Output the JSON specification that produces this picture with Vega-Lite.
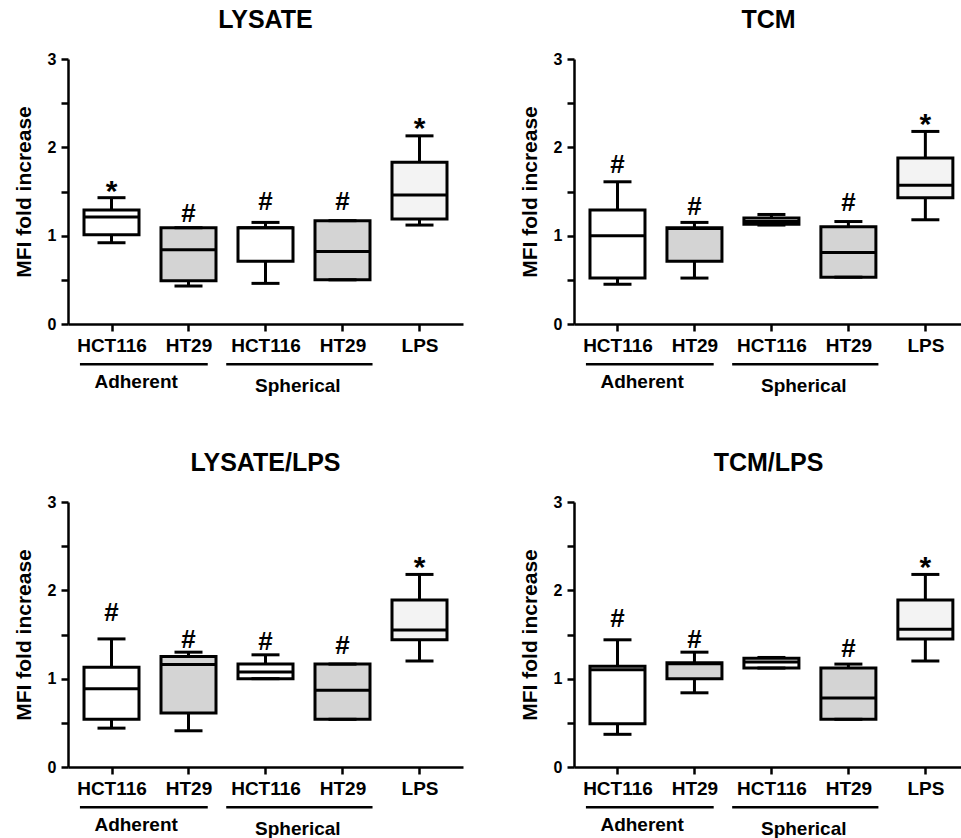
{
  "$schema": "https://vega.github.io/schema/vega-lite/v6.json",
  "padding": {"left": 13, "top": 8, "right": 0, "bottom": 0},
  "autosize": {"type": "pad"},
  "bounds": "flush",
  "columns": 2,
  "spacing": {"row": 178, "column": 111},
  "datasets": {
    "boxes": [
      {"panel": "LYSATE", "pos": 1, "kind": "white", "lo": 0.92, "q1": 1.01, "med": 1.21, "q3": 1.29, "hi": 1.43, "annot": "*", "ay": 1.56},
      {"panel": "LYSATE", "pos": 2, "kind": "gray", "lo": 0.43, "q1": 0.49, "med": 0.84, "q3": 1.09, "hi": 1.09, "annot": "#", "ay": 1.26},
      {"panel": "LYSATE", "pos": 3, "kind": "white", "lo": 0.46, "q1": 0.71, "med": 1.09, "q3": 1.09, "hi": 1.15, "annot": "#", "ay": 1.39},
      {"panel": "LYSATE", "pos": 4, "kind": "gray", "lo": 0.5, "q1": 0.5, "med": 0.82, "q3": 1.17, "hi": 1.17, "annot": "#", "ay": 1.39},
      {"panel": "LYSATE", "pos": 5, "kind": "dotted", "lo": 1.12, "q1": 1.19, "med": 1.46, "q3": 1.83, "hi": 2.13, "annot": "*", "ay": 2.28},
      {"panel": "TCM", "pos": 1, "kind": "white", "lo": 0.45, "q1": 0.52, "med": 1.0, "q3": 1.29, "hi": 1.61, "annot": "#", "ay": 1.81},
      {"panel": "TCM", "pos": 2, "kind": "gray", "lo": 0.52, "q1": 0.71, "med": 1.08, "q3": 1.09, "hi": 1.15, "annot": "#", "ay": 1.34},
      {"panel": "TCM", "pos": 3, "kind": "white", "lo": 1.12, "q1": 1.13, "med": 1.16, "q3": 1.2, "hi": 1.24, "annot": "", "ay": null},
      {"panel": "TCM", "pos": 4, "kind": "gray", "lo": 0.53, "q1": 0.53, "med": 0.81, "q3": 1.1, "hi": 1.16, "annot": "#", "ay": 1.38},
      {"panel": "TCM", "pos": 5, "kind": "dotted", "lo": 1.18, "q1": 1.43, "med": 1.57, "q3": 1.88, "hi": 2.18, "annot": "*", "ay": 2.32},
      {"panel": "LYSATE/LPS", "pos": 1, "kind": "white", "lo": 0.44, "q1": 0.54, "med": 0.885, "q3": 1.13, "hi": 1.45, "annot": "#", "ay": 1.75},
      {"panel": "LYSATE/LPS", "pos": 2, "kind": "gray", "lo": 0.41, "q1": 0.61, "med": 1.16, "q3": 1.25, "hi": 1.3, "annot": "#", "ay": 1.45},
      {"panel": "LYSATE/LPS", "pos": 3, "kind": "white", "lo": 1.0, "q1": 1.0, "med": 1.075, "q3": 1.165, "hi": 1.27, "annot": "#", "ay": 1.43},
      {"panel": "LYSATE/LPS", "pos": 4, "kind": "gray", "lo": 0.54, "q1": 0.54, "med": 0.87, "q3": 1.165, "hi": 1.165, "annot": "#", "ay": 1.38},
      {"panel": "LYSATE/LPS", "pos": 5, "kind": "dotted", "lo": 1.2, "q1": 1.44, "med": 1.55, "q3": 1.89, "hi": 2.18, "annot": "*", "ay": 2.32},
      {"panel": "TCM/LPS", "pos": 1, "kind": "white", "lo": 0.37, "q1": 0.49, "med": 1.1, "q3": 1.14, "hi": 1.44, "annot": "#", "ay": 1.69},
      {"panel": "TCM/LPS", "pos": 2, "kind": "gray", "lo": 0.84, "q1": 1.0, "med": 1.17, "q3": 1.18, "hi": 1.3, "annot": "#", "ay": 1.45},
      {"panel": "TCM/LPS", "pos": 3, "kind": "white", "lo": 1.12, "q1": 1.12, "med": 1.19, "q3": 1.23, "hi": 1.24, "annot": "", "ay": null},
      {"panel": "TCM/LPS", "pos": 4, "kind": "gray", "lo": 0.54, "q1": 0.54, "med": 0.78, "q3": 1.12, "hi": 1.165, "annot": "#", "ay": 1.35},
      {"panel": "TCM/LPS", "pos": 5, "kind": "dotted", "lo": 1.2, "q1": 1.45, "med": 1.56, "q3": 1.89, "hi": 2.18, "annot": "*", "ay": 2.32}
    ],
    "groups": [
      {"group": "Adherent", "start": 0.59, "end": 2.25, "mid": 1.32},
      {"group": "Spherical", "start": 2.49, "end": 4.39, "mid": 3.42}
    ]
  },
  "concat": [
    {
      "width": 395, "height": 265,
      "title": "LYSATE",
      "data": {"name": "boxes"},
      "transform": [{"filter": "datum.panel === 'LYSATE'"}],
      "layer": [
        {"mark": {"type": "rule", "color": "black", "strokeWidth": 3},
         "encoding": {
           "x": {"field": "pos", "type": "quantitative", "scale": {"domain": [0.5, 5.5], "nice": false, "zero": false},
                 "axis": {"values": [1, 2, 3, 4, 5], "labelExpr": "['','HCT116','HT29','HCT116','HT29','LPS'][datum.value]", "title": null}},
           "y": {"field": "lo", "type": "quantitative", "scale": {"domain": [0, 3], "nice": false},
                 "axis": {"values": [0, 0.5, 1, 1.5, 2, 2.5, 3], "labelExpr": "datum.value % 1 === 0 ? format(datum.value, 'd') : ''", "title": "MFI fold increase"}},
           "y2": {"field": "hi"}}},
        {"mark": {"type": "bar", "size": 55, "stroke": "black", "strokeWidth": 3},
         "encoding": {"x": {"field": "pos", "type": "quantitative"}, "y": {"field": "q1", "type": "quantitative"}, "y2": {"field": "q3"},
           "fill": {"field": "kind", "type": "nominal", "scale": {"domain": ["white", "gray", "dotted"], "range": ["#ffffff", "#d4d4d4", "#f3f3f3"]}, "legend": null}}},
        {"mark": {"type": "tick", "orient": "horizontal", "size": 55, "thickness": 3, "color": "black", "opacity": 1},
         "encoding": {"x": {"field": "pos", "type": "quantitative"}, "y": {"field": "med", "type": "quantitative"}}},
        {"mark": {"type": "tick", "orient": "horizontal", "size": 28, "thickness": 3, "color": "black", "opacity": 1},
         "encoding": {"x": {"field": "pos", "type": "quantitative"}, "y": {"field": "lo", "type": "quantitative"}}},
        {"mark": {"type": "tick", "orient": "horizontal", "size": 28, "thickness": 3, "color": "black", "opacity": 1},
         "encoding": {"x": {"field": "pos", "type": "quantitative"}, "y": {"field": "hi", "type": "quantitative"}}},
        {"transform": [{"filter": "datum.annot === '#'"}],
         "mark": {"type": "text", "fontSize": 26, "fontWeight": "bold", "baseline": "alphabetic", "dy": 9, "color": "black"},
         "encoding": {"x": {"field": "pos", "type": "quantitative"}, "y": {"field": "ay", "type": "quantitative"}, "text": {"field": "annot"}}},
        {"transform": [{"filter": "datum.annot === '*'"}],
         "mark": {"type": "text", "fontSize": 30, "fontWeight": "bold", "baseline": "alphabetic", "dy": 15, "color": "black"},
         "encoding": {"x": {"field": "pos", "type": "quantitative"}, "y": {"field": "ay", "type": "quantitative"}, "text": {"field": "annot"}}},
        {"data": {"name": "groups"},
         "mark": {"type": "rule", "color": "black", "strokeWidth": 2.5},
         "encoding": {"x": {"field": "start", "type": "quantitative"}, "x2": {"field": "end"}, "y": {"datum": -0.455}}},
        {"data": {"name": "groups"}, "transform": [{"filter": "datum.group === 'Adherent'"}],
         "mark": {"type": "text", "fontSize": 19, "fontWeight": "bold", "baseline": "middle", "dy": 58, "color": "black"},
         "encoding": {"x": {"field": "mid", "type": "quantitative"}, "y": {"datum": 0}, "text": {"field": "group"}}},
        {"data": {"name": "groups"}, "transform": [{"filter": "datum.group === 'Spherical'"}],
         "mark": {"type": "text", "fontSize": 19, "fontWeight": "bold", "baseline": "middle", "dy": 62, "color": "black"},
         "encoding": {"x": {"field": "mid", "type": "quantitative"}, "y": {"datum": 0}, "text": {"field": "group"}}}
      ]
    },
    {
      "width": 389, "height": 265,
      "title": "TCM",
      "data": {"name": "boxes"},
      "transform": [{"filter": "datum.panel === 'TCM'"}],
      "layer": [
        {"mark": {"type": "rule", "color": "black", "strokeWidth": 3},
         "encoding": {
           "x": {"field": "pos", "type": "quantitative", "scale": {"domain": [0.5, 5.424], "nice": false, "zero": false},
                 "axis": {"values": [1, 2, 3, 4, 5], "labelExpr": "['','HCT116','HT29','HCT116','HT29','LPS'][datum.value]", "title": null}},
           "y": {"field": "lo", "type": "quantitative", "scale": {"domain": [0, 3], "nice": false},
                 "axis": {"values": [0, 0.5, 1, 1.5, 2, 2.5, 3], "labelExpr": "datum.value % 1 === 0 ? format(datum.value, 'd') : ''", "title": "MFI fold increase"}},
           "y2": {"field": "hi"}}},
        {"mark": {"type": "bar", "size": 55, "stroke": "black", "strokeWidth": 3},
         "encoding": {"x": {"field": "pos", "type": "quantitative"}, "y": {"field": "q1", "type": "quantitative"}, "y2": {"field": "q3"},
           "fill": {"field": "kind", "type": "nominal", "scale": {"domain": ["white", "gray", "dotted"], "range": ["#ffffff", "#d4d4d4", "#f3f3f3"]}, "legend": null}}},
        {"mark": {"type": "tick", "orient": "horizontal", "size": 55, "thickness": 3, "color": "black", "opacity": 1},
         "encoding": {"x": {"field": "pos", "type": "quantitative"}, "y": {"field": "med", "type": "quantitative"}}},
        {"mark": {"type": "tick", "orient": "horizontal", "size": 28, "thickness": 3, "color": "black", "opacity": 1},
         "encoding": {"x": {"field": "pos", "type": "quantitative"}, "y": {"field": "lo", "type": "quantitative"}}},
        {"mark": {"type": "tick", "orient": "horizontal", "size": 28, "thickness": 3, "color": "black", "opacity": 1},
         "encoding": {"x": {"field": "pos", "type": "quantitative"}, "y": {"field": "hi", "type": "quantitative"}}},
        {"transform": [{"filter": "datum.annot === '#'"}],
         "mark": {"type": "text", "fontSize": 26, "fontWeight": "bold", "baseline": "alphabetic", "dy": 9, "color": "black"},
         "encoding": {"x": {"field": "pos", "type": "quantitative"}, "y": {"field": "ay", "type": "quantitative"}, "text": {"field": "annot"}}},
        {"transform": [{"filter": "datum.annot === '*'"}],
         "mark": {"type": "text", "fontSize": 30, "fontWeight": "bold", "baseline": "alphabetic", "dy": 15, "color": "black"},
         "encoding": {"x": {"field": "pos", "type": "quantitative"}, "y": {"field": "ay", "type": "quantitative"}, "text": {"field": "annot"}}},
        {"data": {"name": "groups"},
         "mark": {"type": "rule", "color": "black", "strokeWidth": 2.5},
         "encoding": {"x": {"field": "start", "type": "quantitative"}, "x2": {"field": "end"}, "y": {"datum": -0.455}}},
        {"data": {"name": "groups"}, "transform": [{"filter": "datum.group === 'Adherent'"}],
         "mark": {"type": "text", "fontSize": 19, "fontWeight": "bold", "baseline": "middle", "dy": 58, "color": "black"},
         "encoding": {"x": {"field": "mid", "type": "quantitative"}, "y": {"datum": 0}, "text": {"field": "group"}}},
        {"data": {"name": "groups"}, "transform": [{"filter": "datum.group === 'Spherical'"}],
         "mark": {"type": "text", "fontSize": 19, "fontWeight": "bold", "baseline": "middle", "dy": 62, "color": "black"},
         "encoding": {"x": {"field": "mid", "type": "quantitative"}, "y": {"datum": 0}, "text": {"field": "group"}}}
      ]
    },
    {
      "width": 395, "height": 265,
      "title": "LYSATE/LPS",
      "data": {"name": "boxes"},
      "transform": [{"filter": "datum.panel === 'LYSATE/LPS'"}],
      "layer": [
        {"mark": {"type": "rule", "color": "black", "strokeWidth": 3},
         "encoding": {
           "x": {"field": "pos", "type": "quantitative", "scale": {"domain": [0.5, 5.5], "nice": false, "zero": false},
                 "axis": {"values": [1, 2, 3, 4, 5], "labelExpr": "['','HCT116','HT29','HCT116','HT29','LPS'][datum.value]", "title": null}},
           "y": {"field": "lo", "type": "quantitative", "scale": {"domain": [0, 3], "nice": false},
                 "axis": {"values": [0, 0.5, 1, 1.5, 2, 2.5, 3], "labelExpr": "datum.value % 1 === 0 ? format(datum.value, 'd') : ''", "title": "MFI fold increase"}},
           "y2": {"field": "hi"}}},
        {"mark": {"type": "bar", "size": 55, "stroke": "black", "strokeWidth": 3},
         "encoding": {"x": {"field": "pos", "type": "quantitative"}, "y": {"field": "q1", "type": "quantitative"}, "y2": {"field": "q3"},
           "fill": {"field": "kind", "type": "nominal", "scale": {"domain": ["white", "gray", "dotted"], "range": ["#ffffff", "#d4d4d4", "#f3f3f3"]}, "legend": null}}},
        {"mark": {"type": "tick", "orient": "horizontal", "size": 55, "thickness": 3, "color": "black", "opacity": 1},
         "encoding": {"x": {"field": "pos", "type": "quantitative"}, "y": {"field": "med", "type": "quantitative"}}},
        {"mark": {"type": "tick", "orient": "horizontal", "size": 28, "thickness": 3, "color": "black", "opacity": 1},
         "encoding": {"x": {"field": "pos", "type": "quantitative"}, "y": {"field": "lo", "type": "quantitative"}}},
        {"mark": {"type": "tick", "orient": "horizontal", "size": 28, "thickness": 3, "color": "black", "opacity": 1},
         "encoding": {"x": {"field": "pos", "type": "quantitative"}, "y": {"field": "hi", "type": "quantitative"}}},
        {"transform": [{"filter": "datum.annot === '#'"}],
         "mark": {"type": "text", "fontSize": 26, "fontWeight": "bold", "baseline": "alphabetic", "dy": 9, "color": "black"},
         "encoding": {"x": {"field": "pos", "type": "quantitative"}, "y": {"field": "ay", "type": "quantitative"}, "text": {"field": "annot"}}},
        {"transform": [{"filter": "datum.annot === '*'"}],
         "mark": {"type": "text", "fontSize": 30, "fontWeight": "bold", "baseline": "alphabetic", "dy": 15, "color": "black"},
         "encoding": {"x": {"field": "pos", "type": "quantitative"}, "y": {"field": "ay", "type": "quantitative"}, "text": {"field": "annot"}}},
        {"data": {"name": "groups"},
         "mark": {"type": "rule", "color": "black", "strokeWidth": 2.5},
         "encoding": {"x": {"field": "start", "type": "quantitative"}, "x2": {"field": "end"}, "y": {"datum": -0.455}}},
        {"data": {"name": "groups"}, "transform": [{"filter": "datum.group === 'Adherent'"}],
         "mark": {"type": "text", "fontSize": 19, "fontWeight": "bold", "baseline": "middle", "dy": 58, "color": "black"},
         "encoding": {"x": {"field": "mid", "type": "quantitative"}, "y": {"datum": 0}, "text": {"field": "group"}}},
        {"data": {"name": "groups"}, "transform": [{"filter": "datum.group === 'Spherical'"}],
         "mark": {"type": "text", "fontSize": 19, "fontWeight": "bold", "baseline": "middle", "dy": 62, "color": "black"},
         "encoding": {"x": {"field": "mid", "type": "quantitative"}, "y": {"datum": 0}, "text": {"field": "group"}}}
      ]
    },
    {
      "width": 389, "height": 265,
      "title": "TCM/LPS",
      "data": {"name": "boxes"},
      "transform": [{"filter": "datum.panel === 'TCM/LPS'"}],
      "layer": [
        {"mark": {"type": "rule", "color": "black", "strokeWidth": 3},
         "encoding": {
           "x": {"field": "pos", "type": "quantitative", "scale": {"domain": [0.5, 5.424], "nice": false, "zero": false},
                 "axis": {"values": [1, 2, 3, 4, 5], "labelExpr": "['','HCT116','HT29','HCT116','HT29','LPS'][datum.value]", "title": null}},
           "y": {"field": "lo", "type": "quantitative", "scale": {"domain": [0, 3], "nice": false},
                 "axis": {"values": [0, 0.5, 1, 1.5, 2, 2.5, 3], "labelExpr": "datum.value % 1 === 0 ? format(datum.value, 'd') : ''", "title": "MFI fold increase"}},
           "y2": {"field": "hi"}}},
        {"mark": {"type": "bar", "size": 55, "stroke": "black", "strokeWidth": 3},
         "encoding": {"x": {"field": "pos", "type": "quantitative"}, "y": {"field": "q1", "type": "quantitative"}, "y2": {"field": "q3"},
           "fill": {"field": "kind", "type": "nominal", "scale": {"domain": ["white", "gray", "dotted"], "range": ["#ffffff", "#d4d4d4", "#f3f3f3"]}, "legend": null}}},
        {"mark": {"type": "tick", "orient": "horizontal", "size": 55, "thickness": 3, "color": "black", "opacity": 1},
         "encoding": {"x": {"field": "pos", "type": "quantitative"}, "y": {"field": "med", "type": "quantitative"}}},
        {"mark": {"type": "tick", "orient": "horizontal", "size": 28, "thickness": 3, "color": "black", "opacity": 1},
         "encoding": {"x": {"field": "pos", "type": "quantitative"}, "y": {"field": "lo", "type": "quantitative"}}},
        {"mark": {"type": "tick", "orient": "horizontal", "size": 28, "thickness": 3, "color": "black", "opacity": 1},
         "encoding": {"x": {"field": "pos", "type": "quantitative"}, "y": {"field": "hi", "type": "quantitative"}}},
        {"transform": [{"filter": "datum.annot === '#'"}],
         "mark": {"type": "text", "fontSize": 26, "fontWeight": "bold", "baseline": "alphabetic", "dy": 9, "color": "black"},
         "encoding": {"x": {"field": "pos", "type": "quantitative"}, "y": {"field": "ay", "type": "quantitative"}, "text": {"field": "annot"}}},
        {"transform": [{"filter": "datum.annot === '*'"}],
         "mark": {"type": "text", "fontSize": 30, "fontWeight": "bold", "baseline": "alphabetic", "dy": 15, "color": "black"},
         "encoding": {"x": {"field": "pos", "type": "quantitative"}, "y": {"field": "ay", "type": "quantitative"}, "text": {"field": "annot"}}},
        {"data": {"name": "groups"},
         "mark": {"type": "rule", "color": "black", "strokeWidth": 2.5},
         "encoding": {"x": {"field": "start", "type": "quantitative"}, "x2": {"field": "end"}, "y": {"datum": -0.455}}},
        {"data": {"name": "groups"}, "transform": [{"filter": "datum.group === 'Adherent'"}],
         "mark": {"type": "text", "fontSize": 19, "fontWeight": "bold", "baseline": "middle", "dy": 58, "color": "black"},
         "encoding": {"x": {"field": "mid", "type": "quantitative"}, "y": {"datum": 0}, "text": {"field": "group"}}},
        {"data": {"name": "groups"}, "transform": [{"filter": "datum.group === 'Spherical'"}],
         "mark": {"type": "text", "fontSize": 19, "fontWeight": "bold", "baseline": "middle", "dy": 62, "color": "black"},
         "encoding": {"x": {"field": "mid", "type": "quantitative"}, "y": {"datum": 0}, "text": {"field": "group"}}}
      ]
    }
  ],
  "config": {
    "font": "Liberation Sans",
    "view": {"stroke": null},
    "axis": {"labelFont": "Liberation Sans", "titleFont": "Liberation Sans", "labelFontWeight": "bold", "titleFontWeight": "bold",
             "domainColor": "black", "domainWidth": 2.5, "tickColor": "black", "tickWidth": 2.5, "tickSize": 7,
             "labelColor": "black", "titleColor": "black", "grid": false},
    "axisX": {"labelFontSize": 19, "labelPadding": 5},
    "axisY": {"labelFontSize": 16, "titleFontSize": 21, "labelPadding": 5, "titlePadding": 13},
    "title": {"font": "Liberation Sans", "fontSize": 25, "fontWeight": "bold", "color": "black", "baseline": "alphabetic", "offset": 17.7, "frame": "group", "anchor": "middle"}
  }
}
